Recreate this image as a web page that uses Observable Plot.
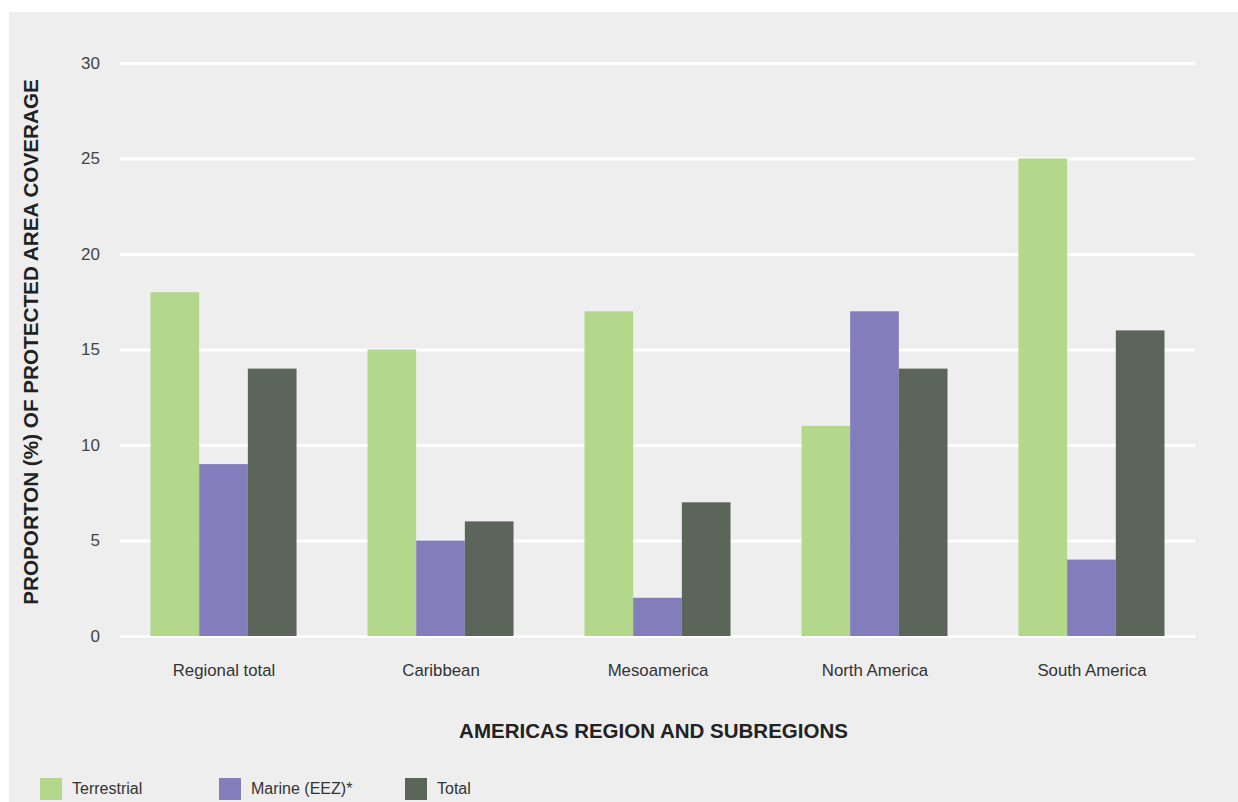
<!DOCTYPE html>
<html>
<head>
<meta charset="utf-8">
<script src="https://cdn.jsdelivr.net/npm/d3@7"></script>
<script src="https://cdn.jsdelivr.net/npm/@observablehq/plot@0.6"></script>
<style>
  html, body { margin: 0; padding: 0; background: #ffffff; }
  #panel { position: absolute; left: 9px; top: 12px; width: 1229px; height: 790px; background: #eeeeee; overflow: hidden;
    font-family: "Liberation Sans", Arial, sans-serif; }
  #grid, #chart { position: absolute; left: 0; top: 0; }
  #xtitle { position: absolute; left: 102px; width: 1085px; top: 707px; text-align: center; font-size: 20.5px; font-weight: bold; color: #222; line-height: 24px; }
  #legend { position: absolute; left: 31px; top: 766px; display: flex; align-items: center; font-size: 16px; color: #333; }
  .item { display: flex; align-items: center; }
  .item:nth-child(1) { width: 179px; }
  .item:nth-child(2) { width: 186px; }
  .sw { width: 22px; height: 22px; margin-right: 10px; }
</style>
</head>
<body>
<div id="panel">
  <div id="grid"></div>
  <div id="chart"></div>
  <div id="xtitle"></div>
  <div id="legend"></div>
</div>
<script>
const regions = ["Regional total", "Caribbean", "Mesoamerica", "North America", "South America"];
const series = ["Terrestrial", "Marine (EEZ)*", "Total"];
const terrestrial = [18, 15, 17, 11, 25];
const marine = [9, 5, 2, 17, 4];
const total = [14, 6, 7, 14, 16];
const yTicks = [0, 5, 10, 15, 20, 25, 30];
const colors = ["#b3d88c", "#847dbb", "#5c6559"];
const yTitle = "PROPORTON (%) OF PROTECTED AREA COVERAGE";
const xTitle = "AMERICAS REGION AND SUBREGIONS";

const values = [terrestrial, marine, total];
const data = regions.flatMap((r, i) => series.map((s, j) => ({region: r, series: s, value: values[j][i]})));

const frame = {
  width: 1229,
  height: 690,
  marginLeft: 111,
  marginRight: 43,
  marginTop: 51,
  marginBottom: 66,
  style: {background: "transparent", fontFamily: "'Liberation Sans', Arial, sans-serif"}
};

// Gridlines: a plain (unfaceted) plot sharing the same y scale, drawn beneath the bars
const grid = Plot.plot({
  ...frame,
  y: {domain: [0, 30], axis: null},
  x: {axis: null},
  marks: [
    Plot.ruleY(yTicks, {stroke: "white", strokeWidth: 3})
  ]
});
document.getElementById("grid").appendChild(grid);

const chart = Plot.plot({
  ...frame,
  fx: {domain: regions, paddingInner: 0.327, paddingOuter: 0.1406, round: false, label: null},
  x: {domain: series, padding: 0, round: false, axis: null},
  y: {domain: [0, 30], axis: null},
  color: {domain: series, range: colors},
  marks: [
    Plot.barY(data, {fx: "region", x: "series", y: "value", fill: "series"}),
    Plot.axisY(yTicks, {tickSize: 0, tickPadding: 51, fontSize: 17, fill: "#444", label: null}),
    Plot.axisFx({anchor: "bottom", tickSize: 0, tickPadding: 28, fontSize: 16.8, fill: "#333", label: null}),
    Plot.text([yTitle], {facet: "super", frameAnchor: "left", rotate: -90, textAnchor: "middle", dx: -120, dy: -8, fontSize: 20.7, fontWeight: "bold", fill: "#222"})
  ]
});
document.getElementById("chart").appendChild(chart);
document.getElementById("xtitle").textContent = xTitle;

const legend = document.getElementById("legend");
series.forEach((s, i) => {
  const item = document.createElement("div");
  item.className = "item";
  const sw = document.createElement("div");
  sw.className = "sw";
  sw.style.background = colors[i];
  const lab = document.createElement("span");
  lab.textContent = s;
  item.appendChild(sw);
  item.appendChild(lab);
  legend.appendChild(item);
});
</script>
</body>
</html>
